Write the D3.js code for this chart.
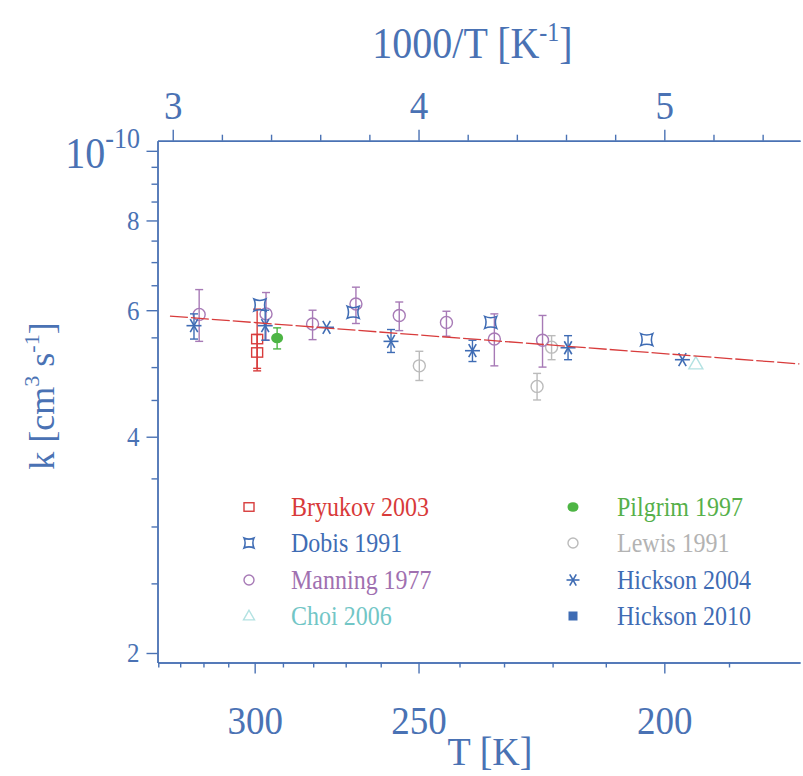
<!DOCTYPE html>
<html><head><meta charset="utf-8">
<script src="https://cdn.jsdelivr.net/npm/d3@7"></script>
<style>body{margin:0;background:#fff}</style>
</head><body><svg id="c" width="803" height="776"></svg>
<script>
// ---------- data ----------
const topTicks = [3, 4, 5];
const topMinor = [3.2, 3.4, 3.6, 3.8, 4.2, 4.4, 4.6, 4.8, 5.2, 5.4];
const bottomTicks = [300, 250, 200];
const bottomMinor = [340, 330, 320, 310, 290, 280, 270, 260, 240, 230, 220, 210, 190];
const yTicks = [2, 4, 6, 8, 10];
const yMinor = [2.5, 3, 3.5, 4.5, 5, 5.5, 6.5, 7, 7.5, 8.5, 9, 9.5];
// [T (K), k (1e-11 cm3 s-1), error low, error high]
const bryukov = [[299.1, 5.47, 4.98, 6.02], [299.1, 5.24, 4.94, 5.55]];
const dobis = [[298.1, 6.10], [267.8, 5.96], [232.9, 5.77], [202.9, 5.46]];
const manning = [[321.8, 5.92, 5.43, 6.41], [295.9, 5.93, 5.45, 6.35], [280.2, 5.74, 5.46, 6.00],
  [267.0, 6.12, 5.75, 6.46], [255.0, 5.90, 5.62, 6.16], [243.1, 5.77, 5.52, 5.98],
  [232.1, 5.47, 5.02, 5.93], [222.0, 5.45, 5.00, 5.90]];
const choi = [[195.0, 5.05]];
const pilgrim = [[292.0, 5.49, 5.30, 5.67]];
const lewis = [[249.8, 5.02, 4.79, 5.26], [220.2, 5.33, 5.12, 5.53], [223.1, 4.70, 4.50, 4.90]];
const hickson2004 = [[324.0, 5.71, 5.47, 5.93], [296.2, 5.71, 5.45, 6.00], [275.8, 5.68],
  [257.2, 5.43, 5.24, 5.64], [237.0, 5.27, 5.09, 5.45], [217.0, 5.32, 5.12, 5.53], [197.1, 5.12]];
const hickson2010 = [];
const fitA = 7.04, fitB = 59.8;          // k = A exp(-B/T), 1e-11 units
const fitT = [334.6, 180.2];
const legendLeft = ["Bryukov 2003", "Dobis 1991", "Manning 1977", "Choi 2006"];
const legendRight = ["Pilgrim 1997", "Lewis 1991", "Hickson 2004", "Hickson 2010"];

// ---------- setup ----------
const AX = "#4a72b4";
const FONT = "'Liberation Serif', 'Times New Roman', serif";
const C = {
  bryukov: {m: "#d83c3c", t: "#d83a3a", sym: "square"},
  dobis: {m: "#3f6cb4", t: "#3f6cb4", sym: "dobis"},
  manning: {m: "#a77ab6", t: "#a070b0", sym: "circle"},
  choi: {m: "#b3e2e2", t: "#72c6c6", sym: "triangle"},
  pilgrim: {m: "#4db544", t: "#56b04a", sym: "dot"},
  lewis: {m: "#bbbbbb", t: "#b3b3b3", sym: "circle"},
  hickson2004: {m: "#3f6cb4", t: "#3f6cb4", sym: "star"},
  hickson2010: {m: "#3f6cb4", t: "#3f6cb4", sym: "fsquare"}
};
function stretch(sel, k = 1.1) {
  sel.each(function () {
    const t = d3.select(this);
    const x0 = +t.attr("x") || 0, y0 = +t.attr("y") || 0;
    const tr = t.attr("transform") || "";
    t.attr("x", 0).attr("y", 0).attr("transform", `${tr} translate(${x0},${y0}) scale(1,${k})`);
  });
}

const L = 157.5, R = 800, T0 = 140.7, B = 662.5;
const svg = d3.select("#c");
const x = d3.scaleLinear().domain([2.938, 5.552]).range([L, R]);
const y = d3.scaleLog().domain([1.94, 10.33]).range([B, T0]);
const xT = t => x(1000 / t);

function styleAxis(g, fs) {
  g.selectAll("path.domain").attr("stroke", AX).attr("stroke-width", 1.4);
  g.selectAll(".tick line").attr("stroke", AX).attr("stroke-width", 1.4);
  g.selectAll("text").attr("fill", AX).style("font-family", FONT).style("font-size", fs + "px");
  stretch(g.selectAll("text"));
}

// left axis
const gl = svg.append("g").attr("transform", `translate(${L},0)`);
gl.call(d3.axisLeft(y).tickValues(yTicks).tickSize(11).tickSizeOuter(0).tickPadding(7)
  .tickFormat(d => d === 10 ? "" : d));
styleAxis(gl, 25);
const glm = svg.append("g").attr("transform", `translate(${L},0)`);
glm.call(d3.axisLeft(y).tickValues(yMinor).tickSize(6).tickSizeOuter(0).tickFormat(""));
styleAxis(glm, 25);
// 10^-10 label
const t10 = svg.append("text").attr("x", 140).attr("y", 168).attr("text-anchor", "end")
  .attr("fill", AX).style("font-family", FONT);
t10.append("tspan").style("font-size", "40px").text("10");
t10.append("tspan").style("font-size", "26px").attr("dy", -18).text("-10");
stretch(t10);

// top axis
const gt = svg.append("g").attr("transform", `translate(0,${T0})`);
gt.call(d3.axisTop(x).tickValues(topTicks).tickSize(11).tickSizeOuter(0).tickPadding(11).tickFormat(d3.format("d")));
styleAxis(gt, 37);
const gtm = svg.append("g").attr("transform", `translate(0,${T0})`);
gtm.call(d3.axisTop(x).tickValues(topMinor).tickSize(6).tickSizeOuter(0).tickFormat(""));
styleAxis(gtm, 37);

// bottom axis (T)
const gb = svg.append("g").attr("transform", `translate(0,${B})`);
gb.call(d3.axisBottom(x).tickValues(bottomTicks.map(t => 1000 / t)).tickSize(11).tickSizeOuter(0)
  .tickPadding(32).tickFormat(v => Math.round(1000 / v)));
styleAxis(gb, 37);
const gbm = svg.append("g").attr("transform", `translate(0,${B})`);
gbm.call(d3.axisBottom(x).tickValues(bottomMinor.map(t => 1000 / t)).tickSize(5).tickSizeOuter(0).tickFormat(""));
styleAxis(gbm, 37);

// axis titles
const tt = svg.append("text").attr("x", 472.5).attr("y", 58).attr("text-anchor", "middle")
  .attr("fill", AX).style("font-family", FONT).style("font-size", "40px");
tt.append("tspan").text("1000/T [K");
tt.append("tspan").style("font-size", "24px").attr("dy", -15.5).text("-1");
tt.append("tspan").attr("dy", 15.5).text("]");
stretch(tt);

const tb = svg.append("text").attr("x", 490).attr("y", 765).attr("text-anchor", "middle")
  .attr("fill", AX).style("font-family", FONT).style("font-size", "38px").text("T [K]");
stretch(tb, 1.05);

const yt = svg.append("text").attr("transform", "translate(54,396) rotate(-90)").attr("text-anchor", "middle")
  .attr("fill", AX).style("font-family", FONT).style("font-size", "36px");
yt.append("tspan").text("k [cm");
yt.append("tspan").style("font-size", "22px").attr("dy", -15).text("3");
yt.append("tspan").attr("dy", 15).text(" s");
yt.append("tspan").style("font-size", "22px").attr("dy", -15).text("-1");
yt.append("tspan").attr("dy", 15).text("]");

// ---------- markers ----------
function marker(g, sym, cx, cy, col, s) {
  const sw = 1.4;
  if (sym === "square") {
    g.append("rect").attr("x", cx - s).attr("y", cy - s * 0.85).attr("width", 2 * s).attr("height", 1.7 * s)
      .attr("fill", "none").attr("stroke", col).attr("stroke-width", sw);
  } else if (sym === "fsquare") {
    g.append("rect").attr("x", cx - s).attr("y", cy - s).attr("width", 2 * s).attr("height", 2 * s)
      .attr("fill", col);
  } else if (sym === "circle") {
    g.append("circle").attr("cx", cx).attr("cy", cy).attr("r", s)
      .attr("fill", "none").attr("stroke", col).attr("stroke-width", sw);
  } else if (sym === "dot") {
    g.append("ellipse").attr("cx", cx).attr("cy", cy).attr("rx", s).attr("ry", s * 0.88).attr("fill", col);
  } else if (sym === "triangle") {
    const h = s * 1.75;
    g.append("path").attr("d", `M${cx},${cy - h * 0.6}L${cx + s},${cy + h * 0.4}L${cx - s},${cy + h * 0.4}Z`)
      .attr("fill", "none").attr("stroke", col).attr("stroke-width", sw);
  } else if (sym === "dobis") {
    const a = s, b = s * 0.55;
    g.append("path").attr("d",
      `M${cx - a},${cy - a}Q${cx},${cy - b} ${cx + a},${cy - a}Q${cx + b},${cy} ${cx + a},${cy + a}` +
      `Q${cx},${cy + b} ${cx - a},${cy + a}Q${cx - b},${cy} ${cx - a},${cy - a}Z`)
      .attr("fill", "none").attr("stroke", col).attr("stroke-width", sw * 1.1);
  } else if (sym === "star") {
    [0, 60, 120].forEach(an => {
      const r = an * Math.PI / 180;
      g.append("line").attr("x1", cx - s * Math.cos(r)).attr("y1", cy - s * Math.sin(r))
        .attr("x2", cx + s * Math.cos(r)).attr("y2", cy + s * Math.sin(r))
        .attr("stroke", col).attr("stroke-width", 1.6);
    });
  }
}
const SIZE = {square: 5.5, fsquare: 4.5, circle: 6, dot: 6, triangle: 7, dobis: 6, star: 7.5};

function errbars(g, data, col) {
  data.filter(d => d.length > 2).forEach(d => {
    const cx = xT(d[0]);
    g.append("line").attr("x1", cx).attr("x2", cx).attr("y1", y(d[2])).attr("y2", y(d[3]))
      .attr("stroke", col).attr("stroke-width", 1.4);
    [d[2], d[3]].forEach(v => g.append("line").attr("x1", cx - 4).attr("x2", cx + 4)
      .attr("y1", y(v)).attr("y2", y(v)).attr("stroke", col).attr("stroke-width", 1.4));
  });
}

const series = [["lewis", lewis], ["manning", manning], ["bryukov", bryukov], ["pilgrim", pilgrim],
  ["dobis", dobis], ["choi", choi], ["hickson2004", hickson2004], ["hickson2010", hickson2010]];
const gd = svg.append("g");
series.forEach(([name, data]) => {
  const c = C[name];
  const g = gd.append("g");
  errbars(g, data, c.m);
  data.forEach(d => marker(g, c.sym, xT(d[0]), y(d[1]), c.m, SIZE[c.sym]));
});

// fit line
svg.append("defs").append("clipPath").attr("id", "clip").append("rect")
  .attr("x", L).attr("y", T0).attr("width", R - L).attr("height", B - T0);
const line = d3.line().x(t => xT(t)).y(t => y(fitA * Math.exp(-fitB / t)));
svg.append("path").attr("d", line(fitT)).attr("clip-path", "url(#clip)")
  .attr("fill", "none").attr("stroke", "#d83c3c").attr("stroke-width", 1.3)
  .attr("stroke-dasharray", "18,3");

// ---------- legend ----------
const legRowY = [507, 543, 580, 616];
const legKeysL = ["bryukov", "dobis", "manning", "choi"];
const legKeysR = ["pilgrim", "lewis", "hickson2004", "hickson2010"];
const LS = {square: 5, fsquare: 4.5, circle: 5, dot: 5.5, triangle: 5.5, dobis: 5, star: 6.5};
function legendCol(keys, labels, mx, tx) {
  keys.forEach((k, i) => {
    const c = C[k];
    marker(svg, c.sym, mx, legRowY[i], c.m, LS[c.sym]);
    const t = svg.append("text").attr("x", tx).attr("y", legRowY[i] + 9).attr("fill", c.t)
      .style("font-family", FONT).style("font-size", "24px").text(labels[i]);
    stretch(t);
  });
}
legendCol(legKeysL, legendLeft, 249, 291);
legendCol(legKeysR, legendRight, 573, 617);
</script>
</body></html>
